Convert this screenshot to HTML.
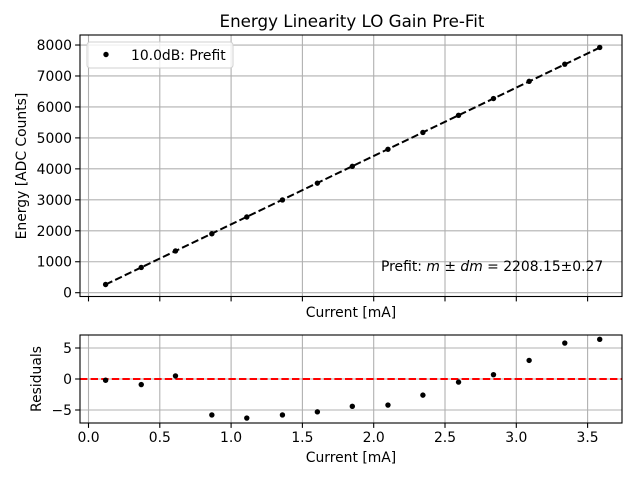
<!DOCTYPE html>
<html><head><meta charset="utf-8">
<style>
body{margin:0;background:#fff}
svg{font-family:"DejaVu Sans","Liberation Sans",sans-serif}
</style></head>
<body>
<svg id="c" width="640" height="480" xmlns="http://www.w3.org/2000/svg"></svg>
<script>
const currents=[0.12,0.37,0.61,0.865,1.11,1.36,1.605,1.85,2.1,2.345,2.595,2.84,3.09,3.34,3.585];
const residuals=[-0.2,-0.9,0.5,-5.8,-6.3,-5.8,-5.3,-4.4,-4.2,-2.6,-0.5,0.7,3.0,5.8,6.4];
const slope=2208.15;
const xTicks=[0,0.5,1,1.5,2,2.5,3,3.5];
const xTickLabels=["0.0","0.5","1.0","1.5","2.0","2.5","3.0","3.5"];
const yTicks=[0,1000,2000,3000,4000,5000,6000,7000,8000];
const rTicks=[-5,0,5];

const svg=document.getElementById('c');
const NS="http://www.w3.org/2000/svg";
function mk(tag,attrs,parent){const e=document.createElementNS(NS,tag);for(const k in attrs)e.setAttribute(k,attrs[k]);(parent||svg).appendChild(e);return e;}
const L=80,R=622,T1=35,B1=296.5,T2=335,B2=423;
const FS=13.9;
const X=v=>88.5+v*142.6;
const Y=v=>292.7-v*0.03096;
const YR=v=>379-v*6.2;
const energies=currents.map((c,i)=>slope*c+residuals[i]);

let t=mk('text',{x:352,y:27,'font-size':16.7,'text-anchor':'middle'});t.textContent='Energy Linearity LO Gain Pre-Fit';



const g1=mk('g',{});


xTicks.forEach(v=>{mk('line',{x1:X(v),x2:X(v),y1:T1,y2:B1,stroke:'#b0b0b0','stroke-width':1.1},g1);mk('line',{x1:X(v),x2:X(v),y1:B1,y2:B1+4.9,stroke:'#000','stroke-width':1.1},g1);});
yTicks.forEach(v=>{mk('line',{x1:L,x2:R,y1:Y(v),y2:Y(v),stroke:'#b0b0b0','stroke-width':1.1},g1);mk('line',{x1:L-4.9,x2:L,y1:Y(v),y2:Y(v),stroke:'#000','stroke-width':1.1},g1);
 const tx=mk('text',{x:L-8,y:Y(v)+5,'font-size':FS,'text-anchor':'end'},g1);tx.textContent=v;
 
 });
const fit=mk('line',{x1:X(currents[0]),y1:Y(slope*currents[0]),x2:X(currents[currents.length-1]),y2:Y(slope*currents[currents.length-1]),stroke:'#000','stroke-width':2,'stroke-dasharray':'7.4,3.2'});


currents.forEach((c,i)=>{const p=mk('circle',{cx:X(c),cy:Y(energies[i]),r:2.7,fill:'#000'});
 
 });
const f1=mk('rect',{x:L,y:T1,width:R-L,height:B1-T1,fill:'none',stroke:'#000','stroke-width':1.1});


const lg=mk('g',{});


mk('rect',{x:87,y:42,width:146,height:26,rx:3,fill:'#fff','fill-opacity':0.8,stroke:'#d0d0d0','stroke-width':1},lg);
mk('circle',{cx:106,cy:54.5,r:2.7,fill:'#000'},lg);
t=mk('text',{x:131,y:60,'font-size':FS},lg);t.textContent='10.0dB: Prefit';
t=mk('text',{x:381,y:271,'font-size':FS});
t.innerHTML='Prefit: <tspan font-style="italic">m</tspan> ± <tspan font-style="italic">dm</tspan> = 2208.15±0.27';


t=mk('text',{x:351,y:317,'font-size':FS,'text-anchor':'middle'});t.textContent='Current [mA]';


t=mk('text',{x:0,y:0,'font-size':FS,'text-anchor':'middle',transform:'translate(26,166) rotate(-90)'});t.textContent='Energy [ADC Counts]';



const g2=mk('g',{});


xTicks.forEach((v,i)=>{mk('line',{x1:X(v),x2:X(v),y1:T2,y2:B2,stroke:'#b0b0b0','stroke-width':1.1},g2);mk('line',{x1:X(v),x2:X(v),y1:B2,y2:B2+4.9,stroke:'#000','stroke-width':1.1},g2);
 const tx=mk('text',{x:X(v),y:B2+19,'font-size':FS,'text-anchor':'middle'},g2);tx.textContent=xTickLabels[i];
 
 });
rTicks.forEach(v=>{mk('line',{x1:L,x2:R,y1:YR(v),y2:YR(v),stroke:'#b0b0b0','stroke-width':1.1},g2);mk('line',{x1:L-4.9,x2:L,y1:YR(v),y2:YR(v),stroke:'#000','stroke-width':1.1},g2);
 const tx=mk('text',{x:L-8,y:YR(v)+5,'font-size':FS,'text-anchor':'end'},g2);tx.textContent=v<0?'−'+(-v):v;
 
 });
const zl=mk('line',{x1:L,x2:R,y1:YR(0),y2:YR(0),stroke:'#ff0000','stroke-width':2,'stroke-dasharray':'7.4,3.2'});


currents.forEach((c,i)=>{const p=mk('circle',{cx:X(c),cy:YR(residuals[i]),r:2.7,fill:'#000'});
 
 });
const f2=mk('rect',{x:L,y:T2,width:R-L,height:B2-T2,fill:'none',stroke:'#000','stroke-width':1.1});


t=mk('text',{x:351,y:462,'font-size':FS,'text-anchor':'middle'});t.textContent='Current [mA]';


t=mk('text',{x:0,y:0,'font-size':FS,'text-anchor':'middle',transform:'translate(41,379) rotate(-90)'});t.textContent='Residuals';


</script>
</body></html>
